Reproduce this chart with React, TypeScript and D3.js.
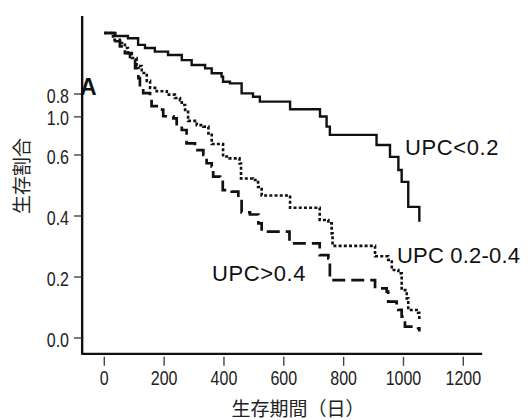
import * as d3 from 'd3'

// survival steps: [day, proportion surviving after the event]
const upcLow: [number, number][] = [
  [0, 1.0], [36, 0.99], [79, 0.983], [113, 0.961], [136, 0.951], [169, 0.939],
  [213, 0.928], [259, 0.911], [292, 0.895], [337, 0.884], [359, 0.868], [392, 0.857],
  [397, 0.84], [420, 0.835], [459, 0.802], [497, 0.791], [520, 0.775], [621, 0.75],
  [721, 0.726], [743, 0.693], [754, 0.666], [910, 0.633], [955, 0.594], [983, 0.551],
  [994, 0.512], [1016, 0.43], [1053, 0.381],
]

const upcMid: [number, number][] = [
  [0, 1.0], [29, 0.978], [52, 0.967], [69, 0.951], [79, 0.934], [92, 0.918],
  [108, 0.892], [125, 0.869], [142, 0.843], [153, 0.82], [175, 0.809], [209, 0.798],
  [236, 0.787], [253, 0.78], [259, 0.764], [270, 0.748], [280, 0.712], [309, 0.698],
  [331, 0.693], [348, 0.671], [359, 0.636], [397, 0.595], [419, 0.589], [452, 0.572],
  [457, 0.523], [497, 0.518], [514, 0.495], [526, 0.467], [621, 0.427], [720, 0.387],
  [749, 0.376], [760, 0.343], [763, 0.302], [905, 0.268], [949, 0.256], [961, 0.223],
  [983, 0.212], [994, 0.157], [1011, 0.13], [1016, 0.092], [1049, 0.083], [1053, 0.062],
]

const upcHigh: [number, number][] = [
  [0, 1.0], [36, 0.973], [52, 0.956], [69, 0.934], [86, 0.912], [103, 0.885],
  [114, 0.852], [119, 0.82], [130, 0.803], [153, 0.792], [158, 0.76], [186, 0.749],
  [197, 0.727], [231, 0.72], [242, 0.694], [259, 0.682], [275, 0.638], [303, 0.616],
  [331, 0.6], [342, 0.573], [359, 0.562], [364, 0.529], [387, 0.524], [396, 0.485],
  [426, 0.48], [448, 0.458], [459, 0.412], [487, 0.405], [515, 0.376], [526, 0.349],
  [619, 0.31], [720, 0.272], [749, 0.261], [754, 0.19], [905, 0.163], [944, 0.152],
  [949, 0.119], [977, 0.114], [983, 0.092], [994, 0.07], [1005, 0.037], [1049, 0.032],
  [1053, 0.021],
]

const xTicks = [0, 200, 400, 600, 800, 1000, 1200]
// the printed axis carries a misplaced "1.0" label; kept as in the source figure
const yTickValues = [0, 0.2, 0.4, 0.6, 0.8, 0.725]
const yTickLabels = ['0.0', '0.2', '0.4', '0.6', '0.8', '1.0']

const xAxisExtent = [-74, 1263]
const yAxisExtent = [-0.052, 1.056]

const labelFont = '"Liberation Sans", Arial, sans-serif'
const cjkFont = '"Noto Sans CJK JP", sans-serif'

// condensed numbers: the narrow face is not installed, so squeeze the regular one
function NarrowText({ x, y, anchor, children }: { x: number; y: number; anchor: string; children: any }) {
  return (
    <g transform={`translate(${x},${y}) scale(0.8,1)`}>
      <text textAnchor={anchor} fontFamily={labelFont} fontSize={20} fill="#222">
        {children}
      </text>
    </g>
  )
}

export default function App() {
  const width = 532
  const height = 420

  const x = d3.scaleLinear().domain([0, 1200]).range([104.3, 463.3])
  const y = d3.scaleLinear().domain([0, 1]).range([338, 33])

  const line = d3
    .line<[number, number]>()
    .x(d => x(d[0]))
    .y(d => y(d[1]))
    .curve(d3.curveStepAfter)

  const series = [
    { data: upcLow, dash: undefined, width: 2.4 },
    { data: upcMid, dash: '3 2.2', width: 2.6 },
    { data: upcHigh, dash: '13 6', width: 2.7 },
  ]

  const xAxisY = y(yAxisExtent[0])
  const yAxisX = x(xAxisExtent[0])

  return (
    <svg
      width={width}
      height={height}
      style={{ position: 'absolute', left: 0, top: 0, background: '#fff' }}
    >
      {/* curves */}
      {series.map((s, i) => (
        <path
          key={i}
          d={line(s.data) ?? ''}
          fill="none"
          stroke="#111"
          strokeWidth={s.width}
          strokeDasharray={s.dash}
        />
      ))}

      {/* axis lines */}
      <line x1={yAxisX} x2={yAxisX} y1={y(yAxisExtent[1])} y2={xAxisY} stroke="#111" strokeWidth={2.4} />
      <line x1={yAxisX - 1} x2={x(xAxisExtent[1])} y1={xAxisY} y2={xAxisY} stroke="#111" strokeWidth={2.4} />

      {/* y ticks */}
      {yTickValues.map((v, i) => (
        <g key={i}>
          <line x1={74} x2={81.5} y1={y(v)} y2={y(v)} stroke="#444" strokeWidth={1.4} />
          <NarrowText x={69} y={y(v) + 8.5} anchor="end">
            {yTickLabels[i]}
          </NarrowText>
        </g>
      ))}

      {/* x ticks */}
      {xTicks.map(t => (
        <g key={t}>
          <line x1={x(t)} x2={x(t)} y1={xAxisY + 3} y2={xAxisY + 12} stroke="#444" strokeWidth={1.4} />
          <NarrowText x={x(t)} y={385} anchor="middle">
            {t}
          </NarrowText>
        </g>
      ))}

      {/* axis titles */}
      <text x={298} y={416} textAnchor="middle" fontFamily={cjkFont} fontSize={19} fill="#222">
        生存期間（日）
      </text>
      <text
        transform="translate(29,176) rotate(-90)"
        textAnchor="middle"
        fontFamily={cjkFont}
        fontSize={19}
        fill="#222"
      >
        生存割合
      </text>

      {/* panel letter and group labels */}
      <text x={80} y={95} fontFamily={labelFont} fontWeight="bold" fontSize={23} fill="#111">
        A
      </text>
      <text x={405} y={155} fontFamily={labelFont} fontSize={22} letterSpacing={0.6} fill="#111">
        UPC&lt;0.2
      </text>
      <text x={397} y={262.5} fontFamily={labelFont} fontSize={22} letterSpacing={0.2} fill="#111">
        UPC 0.2-0.4
      </text>
      <text x={212} y={281} fontFamily={labelFont} fontSize={22} letterSpacing={0.6} fill="#111">
        UPC&gt;0.4
      </text>
    </svg>
  )
}
